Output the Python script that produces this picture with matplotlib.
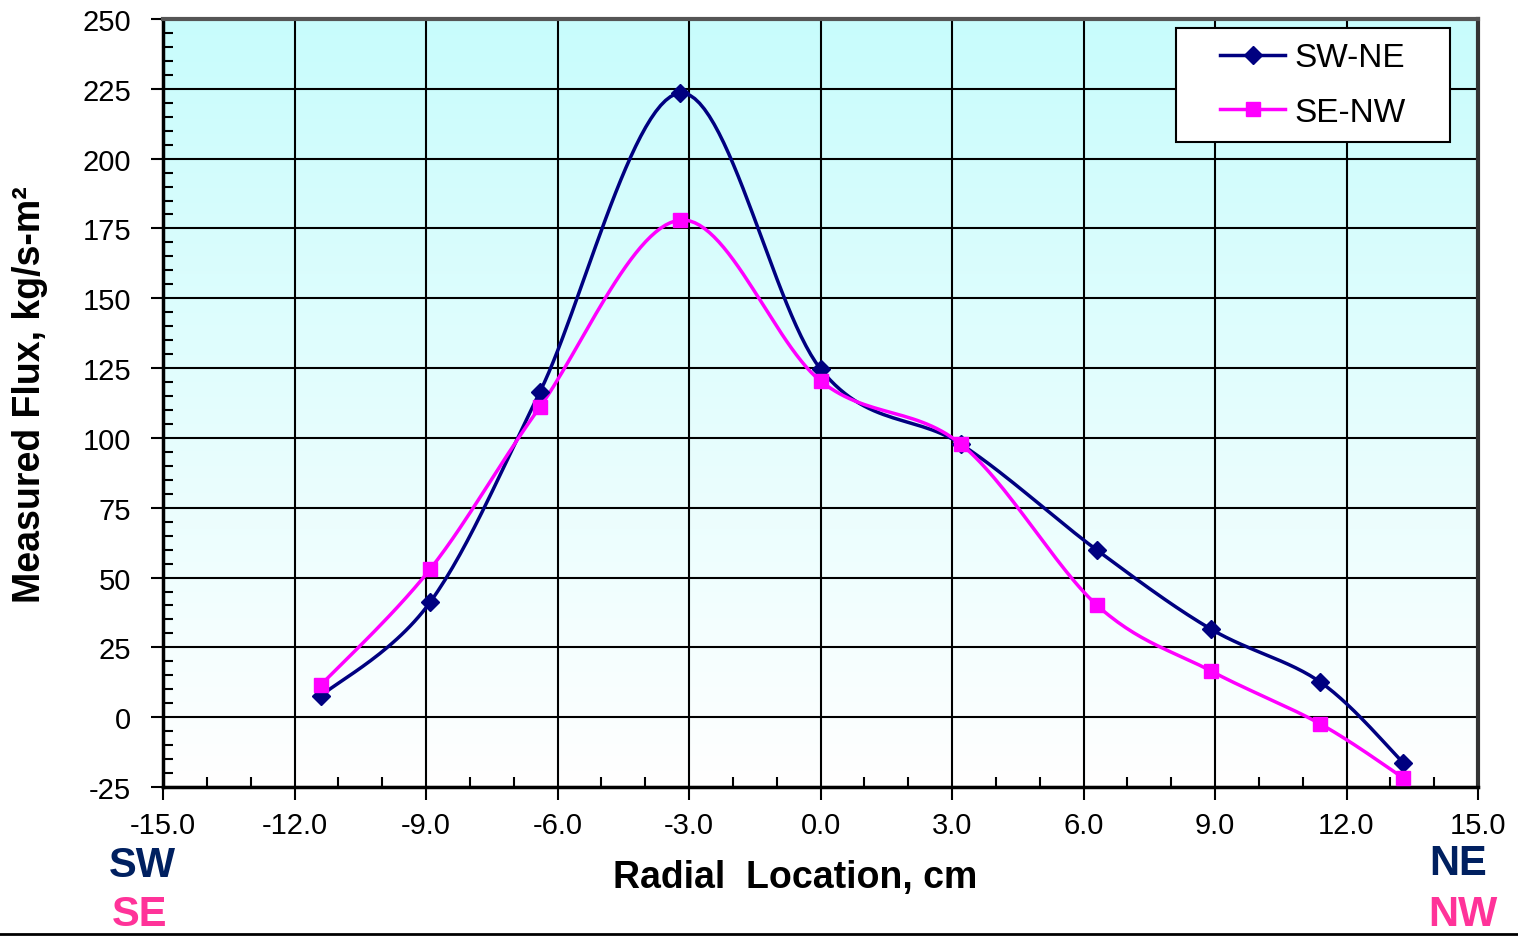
import numpy as np
import matplotlib
matplotlib.use('Agg')
import matplotlib.pyplot as plt
from matplotlib.colors import LinearSegmentedColormap
from matplotlib.patches import Rectangle
from matplotlib.ticker import MultipleLocator, FormatStrFormatter

plt.rcParams['font.family'] = ['Liberation Sans', 'DejaVu Sans']
plt.rcParams['axes.unicode_minus'] = False

# radial positions (cm) and measured flux (kg/s-m2)
radial_cm = [-11.4, -8.9, -6.4, -3.2, 0.0, 3.2, 6.3, 8.9, 11.4, 13.3]
flux_sw_ne = [7.6, 41.3, 116.5, 223.5, 124.7, 97.8, 59.9, 31.6, 12.6, -16.4]
flux_se_nw = [11.5, 53.1, 111.1, 178.0, 120.4, 97.8, 40.2, 16.6, -2.4, -21.8]
series_names = ['SW-NE', 'SE-NW']


def smooth(x, y, n=30):
    # excel-style smoothed line: cubic bezier with catmull-rom control points
    x = np.asarray(x, float)
    y = np.asarray(y, float)
    px = np.concatenate([[x[0]], x, [x[-1]]])
    py = np.concatenate([[y[0]], y, [y[-1]]])
    t = np.linspace(0, 1, n)
    xs, ys = [], []
    for i in range(1, len(px) - 2):
        p0 = np.array([px[i], py[i]])
        p3 = np.array([px[i + 1], py[i + 1]])
        c1 = p0 + (np.array([px[i + 1], py[i + 1]]) - np.array([px[i - 1], py[i - 1]])) / 6
        c2 = p3 - (np.array([px[i + 2], py[i + 2]]) - np.array([px[i], py[i]])) / 6
        b = ((1 - t) ** 3)[:, None] * p0 + (3 * (1 - t) ** 2 * t)[:, None] * c1 \
            + (3 * (1 - t) * t ** 2)[:, None] * c2 + (t ** 3)[:, None] * p3
        xs.append(b[:, 0])
        ys.append(b[:, 1])
    return np.concatenate(xs), np.concatenate(ys)


fig = plt.figure(figsize=(15.18, 9.37), dpi=100)
ax = fig.add_axes([163 / 1518, 1 - 788 / 937, 1315 / 1518, 768 / 937])

# gradient background
cmap = LinearSegmentedColormap.from_list('bg', ['#ffffff', '#c8fcfc'])
grad = np.linspace(0, 1, 256).reshape(-1, 1)
ax.imshow(grad, extent=[-15, 15, -25, 250], origin='lower', aspect='auto',
          cmap=cmap, zorder=0)

ax.set_xlim(-15, 15)
ax.set_ylim(-25, 250)
ax.xaxis.set_major_locator(MultipleLocator(3))
ax.xaxis.set_minor_locator(MultipleLocator(1))
ax.yaxis.set_major_locator(MultipleLocator(25))
ax.yaxis.set_minor_locator(MultipleLocator(5))
ax.xaxis.set_major_formatter(FormatStrFormatter('%.1f'))
ax.grid(which='major', color='black', lw=1.5, zorder=1)
ax.tick_params(which='major', direction='out', length=9, width=1.5, labelsize=21, pad=8)
ax.tick_params(which='minor', direction='in', length=7, width=1.5)
ax.tick_params(axis='y', which='major', pad=14)

ax.spines['left'].set_linewidth(2.5)
ax.spines['bottom'].set_linewidth(2.5)
ax.spines['top'].set_linewidth(3)
ax.spines['top'].set_color('#555555')
ax.spines['right'].set_linewidth(3)
ax.spines['right'].set_color('#333333')

sx, sy = smooth(radial_cm, flux_sw_ne)
ax.plot(sx, sy, color='#000080', lw=2.5, zorder=3)
ax.plot(radial_cm, flux_sw_ne, ls='none', marker='D', ms=9, color='#000080', zorder=4)
sx, sy = smooth(radial_cm, flux_se_nw)
ax.plot(sx, sy, color='#ff00ff', lw=2.5, zorder=3)
ax.plot(radial_cm, flux_se_nw, ls='none', marker='s', ms=10, color='#ff00ff', zorder=4)

# legend box drawn separately so its padding matches the original
box = (0.7703, 0.8398, 0.2084, 0.1485)
ax.add_patch(Rectangle(box[:2], box[2], box[3], transform=ax.transAxes,
                       facecolor='white', edgecolor='black', lw=1.5, zorder=5))
h1, = ax.plot([], [], color='#000080', lw=2.5, marker='D', ms=9)
h2, = ax.plot([], [], color='#ff00ff', lw=2.5, marker='s', ms=10)
leg = ax.legend([h1, h2], series_names, loc='center', bbox_to_anchor=box,
                fontsize=24, frameon=False, handlelength=1.95, borderpad=0,
                labelspacing=0.7, handletextpad=0.27, borderaxespad=0)
leg.set_zorder(6)

ax.set_xlabel('Radial  Location, cm', fontsize=27, fontweight='bold')
ax.xaxis.set_label_coords((795 - 163) / 1315, -(878 - 788) / 768)
ax.xaxis.label.set_va('center')
ax.set_ylabel('Measured Flux, kg/s-m²', fontsize=27, fontweight='bold')
ax.yaxis.set_label_coords(-(163 - 30) / 1315, (788 - 395) / 768)
ax.yaxis.label.set_va('center')

fig.text(142 / 1518, 1 - 866 / 937, 'SW', color='#002060', fontsize=30, fontweight='bold',
         ha='center', va='center')
fig.text(140 / 1518, 1 - 915 / 937, 'SE', color='#ff3399', fontsize=30, fontweight='bold',
         ha='center', va='center')
fig.text(1458 / 1518, 1 - 864 / 937, 'NE', color='#002060', fontsize=30, fontweight='bold',
         ha='center', va='center')
fig.text(1463 / 1518, 1 - 915 / 937, 'NW', color='#ff3399', fontsize=30, fontweight='bold',
         ha='center', va='center')
fig.add_artist(plt.Line2D([0, 1], [1 - 935 / 937, 1 - 935 / 937], color='black', lw=2))

fig.savefig('out.png', dpi=100)
